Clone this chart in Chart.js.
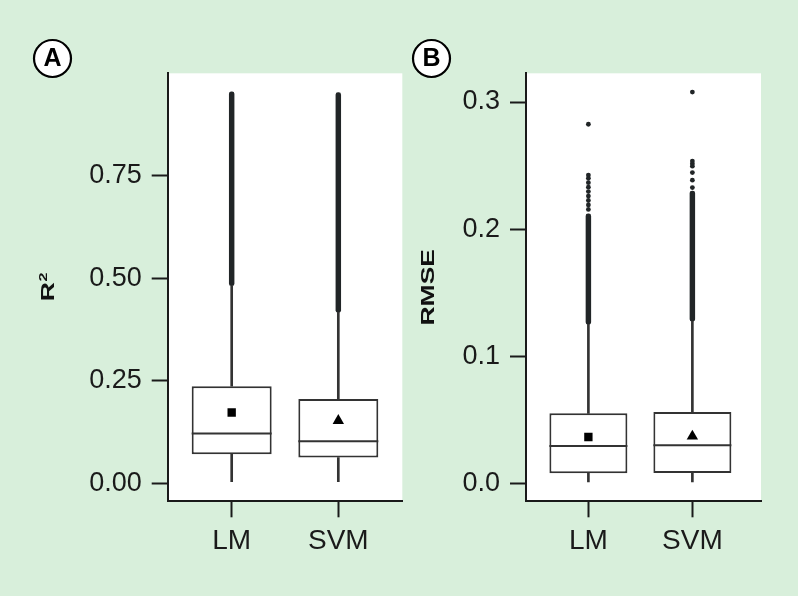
<!DOCTYPE html>
<html><head><meta charset="utf-8">
<script src="https://cdn.jsdelivr.net/npm/chart.js@4/dist/chart.umd.min.js"></script>
<style>
html,body{margin:0;padding:0;background:#d8efdb;}
#wrap{position:relative;width:798px;height:596px;background:#d8efdb;overflow:hidden;}
canvas{position:absolute;left:0;top:0;}
</style></head><body>
<div id="wrap"><canvas id="cA" width="798" height="596"></canvas><canvas id="cB" width="798" height="596"></canvas></div>
<script>
// ---------- data ----------
const categories = ['LM', 'SVM'];

// Panel A : R²
const r2Q1 = [0.071, 0.063];
const r2Median = [0.122, 0.103];
const r2Q3 = [0.237, 0.206];
const r2Mean = [0.173, 0.153];
const r2WhiskerLow = [0.004, 0.004];
const r2WhiskerHigh = [0.482, 0.417];
const r2OutlierBandLow = [0.482, 0.417];
const r2OutlierBandHigh = [0.955, 0.953];
const r2Outliers = [[], []];
const r2Ticks = [0, 0.25, 0.5, 0.75];
const r2TickLabels = ['0.00', '0.25', '0.50', '0.75'];

// Panel B : RMSE
const rmseQ1 = [0.0079, 0.0081];
const rmseMedian = [0.0293, 0.0299];
const rmseQ3 = [0.055, 0.056];
const rmseMean = [0.0364, 0.037];
const rmseWhiskerLow = [0.001, 0.001];
const rmseWhiskerHigh = [0.1250, 0.1275];
const rmseOutlierBandLow = [0.1250, 0.1275];
const rmseOutlierBandHigh = [0.212, 0.230];
const rmseOutliers = [
  [0.2155, 0.219, 0.2225, 0.226, 0.2295, 0.233, 0.2365, 0.240, 0.2425, 0.2825],
  [0.2327, 0.2385, 0.2445, 0.2495, 0.2515, 0.2535, 0.3078]
];
const rmseTicks = [0, 0.1, 0.2, 0.3];
const rmseTickLabels = ['0.0', '0.1', '0.2', '0.3'];

const meanStyles = ['rect', 'triangle'];

// ---------- styling ----------
const INK = '#1a1a1a';
const BOX = '#333333';
const DOT = '#212527';
const FONT = '"Liberation Sans", Arial, Helvetica, sans-serif';

const panelPlugin = {
  id: 'panelDeco',
  beforeDraw(chart, args, o) {
    const {ctx, chartArea: a} = chart;
    ctx.save();
    ctx.fillStyle = '#ffffff';
    ctx.fillRect(a.left, a.top, a.right - a.left, a.bottom - a.top);
    ctx.restore();
  },
  afterDraw(chart, args, o) {
    const {ctx, chartArea: a} = chart;
    ctx.save();
    // panel letter in circle
    ctx.beginPath();
    ctx.arc(o.letterX, o.letterY, 18.5, 0, Math.PI * 2);
    ctx.fillStyle = '#ffffff';
    ctx.fill();
    ctx.lineWidth = 2.2;
    ctx.strokeStyle = '#000';
    ctx.stroke();
    ctx.fillStyle = '#000';
    ctx.font = 'bold 25px ' + FONT;
    ctx.textAlign = 'center';
    ctx.textBaseline = 'middle';
    ctx.fillText(o.letter, o.letterX, o.letterY + 1);
    // axis title (rotated, stretched along its writing direction)
    ctx.translate(o.titleX, (a.top + a.bottom) / 2);
    ctx.rotate(-Math.PI / 2);
    ctx.scale(1.47, 1);
    ctx.fillStyle = '#111';
    ctx.textBaseline = 'alphabetic';
    ctx.font = 'bold 18px ' + FONT;
    const mainW = ctx.measureText(o.title).width;
    let supW = 0;
    if (o.titleSup) {
      ctx.font = 'bold 11px ' + FONT;
      supW = ctx.measureText(o.titleSup).width;
    }
    const total = mainW + supW;
    ctx.textAlign = 'left';
    ctx.font = 'bold 18px ' + FONT;
    ctx.fillText(o.title, -total / 2, 6.5);
    if (o.titleSup) {
      ctx.font = 'bold 11px ' + FONT;
      ctx.fillText(o.titleSup, -total / 2 + mainW + 0.5, -0.5);
    }
    ctx.restore();
  },
  afterDatasetsDraw(chart, args, o) {
    const meta = chart.getDatasetMeta(o.boxIndex);
    const y = chart.scales.y;
    const ctx = chart.ctx;
    ctx.save();
    ctx.strokeStyle = BOX;
    ctx.lineWidth = 2;
    meta.data.forEach((bar, i) => {
      const p = bar.getProps(['x', 'width'], true);
      const py = y.getPixelForValue(o.medians[i]);
      ctx.beginPath();
      ctx.moveTo(p.x - p.width / 2, py);
      ctx.lineTo(p.x + p.width / 2, py);
      ctx.stroke();
    });
    ctx.restore();
  }
};

function makePanel(id, s) {
  const pts = (arr) => arr.map((v, i) => ({x: i + 1, y: v}));
  const rng = (lo, hi) => lo.map((v, i) => ({x: i + 1, y: [v, hi[i]]}));
  const outlierPts = [];
  s.outliers.forEach((list, i) => list.forEach(v => outlierPts.push({x: i + 1, y: v})));
  return new Chart(document.getElementById(id), {
    type: 'bar',
    data: {
      datasets: [
        { type: 'scatter', data: pts(s.mean), pointStyle: meanStyles, pointRadius: [5.9, 6.6],
          backgroundColor: '#000', borderWidth: 0 },
        { type: 'scatter', data: outlierPts, pointStyle: 'circle', pointRadius: 2.4,
          backgroundColor: DOT, borderWidth: 0 },
        { data: rng(s.q1, s.q3), backgroundColor: '#ffffff', borderColor: BOX, borderWidth: 2,
          borderSkipped: false, grouped: false, categoryPercentage: 1, barPercentage: 0.75 },
        { data: rng(s.wLow, s.q1), backgroundColor: BOX, borderWidth: 0, grouped: false, barThickness: 2 },
        { data: rng(s.q3, s.wHigh), backgroundColor: BOX, borderWidth: 0, grouped: false, barThickness: 2 },
        { data: rng(s.bandLow, s.bandHigh), backgroundColor: DOT, borderWidth: 0, grouped: false,
          barThickness: 4.8, borderRadius: 2.4, borderSkipped: false }
      ]
    },
    options: {
      responsive: false,
      animation: false,
      events: [],
      layout: { padding: { left: s.padLeft, right: s.padRight, top: 73.3, bottom: 0 } },
      plugins: {
        legend: { display: false },
        tooltip: { enabled: false },
        panelDeco: { letter: s.letter, letterX: s.letterX, letterY: 58.5, title: s.title,
                     titleSup: s.titleSup, titleX: s.titleX, boxIndex: 2, medians: s.median }
      },
      scales: {
        x: {
          type: 'linear', min: 0.4, max: s.xMax, offset: false,
          afterBuildTicks: (sc) => { sc.ticks = categories.map((c, i) => ({value: i + 1})); },
          afterFit: (sc) => { sc.height = 94.7; },
          ticks: { callback: (v, i) => categories[i], autoSkip: false, maxRotation: 0,
                   color: INK, padding: 7, font: { family: FONT, size: 28 } },
          grid: { display: true, offset: false, drawOnChartArea: false, drawTicks: true, tickLength: 16,
                  tickWidth: 2, tickColor: INK },
          border: { display: true, color: INK, width: 2 }
        },
        y: {
          type: 'linear', min: s.yMin, max: s.yMax,
          afterBuildTicks: (sc) => { sc.ticks = s.ticks.map(v => ({value: v})); },
          afterFit: (sc) => { sc.width = s.yWidth; },
          ticks: { callback: (v, i) => s.tickLabels[i], autoSkip: false,
                   color: INK, padding: 10, font: { family: FONT, size: 27 } },
          grid: { display: true, offset: false, drawOnChartArea: false, drawTicks: true, tickLength: 16,
                  tickWidth: 2, tickColor: INK },
          border: { display: true, color: INK, width: 2 }
        }
      }
    },
    plugins: [panelPlugin]
  });
}

makePanel('cA', {
  q1: r2Q1, median: r2Median, q3: r2Q3, mean: r2Mean, wLow: r2WhiskerLow, wHigh: r2WhiskerHigh,
  bandLow: r2OutlierBandLow, bandHigh: r2OutlierBandHigh, outliers: r2Outliers,
  ticks: r2Ticks, tickLabels: r2TickLabels, yMin: -0.0436, yMax: 1.0,
  xMax: 2.6, padLeft: 0, yWidth: 167.7, padRight: 798 - 402.3,
  letter: 'A', letterX: 52.5, title: 'R', titleSup: '2', titleX: 47
});

makePanel('cB', {
  q1: rmseQ1, median: rmseMedian, q3: rmseQ3, mean: rmseMean, wLow: rmseWhiskerLow, wHigh: rmseWhiskerHigh,
  bandLow: rmseOutlierBandLow, bandHigh: rmseOutlierBandHigh, outliers: rmseOutliers,
  ticks: rmseTicks, tickLabels: rmseTickLabels, yMin: -0.0142, yMax: 0.3226,
  xMax: 2.66, padLeft: 404, yWidth: 122, padRight: 798 - 761,
  letter: 'B', letterX: 431.5, title: 'RMSE', titleSup: '', titleX: 427
});
</script>
</body></html>
